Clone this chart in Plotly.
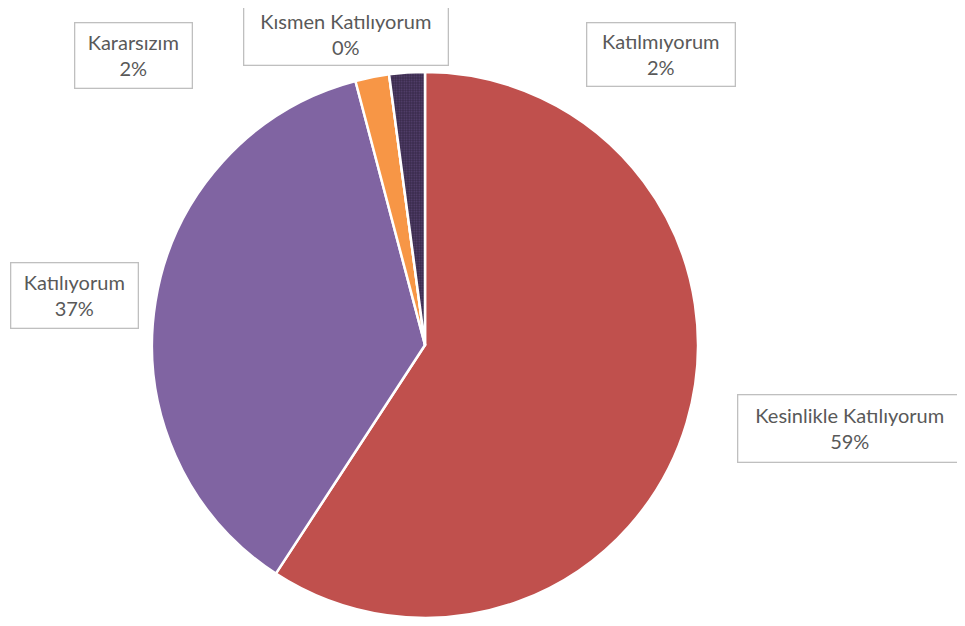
import plotly.graph_objects as go

labels = ["Kesinlikle Katılıyorum", "Katılıyorum", "Kararsızım", "Kısmen Katılıyorum", "Katılmıyorum"]
values = [59.2, 36.7, 2.0, 0.0, 2.1]
colors = ["#C0504D", "#8064A2", "#F79646", "#FFFFFF", "#3A2B4C"]
pattern_shapes = ["", "", "", "", "."]

total = sum(values)
pcts = [f"{round(v / total * 100):.0f}%" for v in values]

# the page body adds an 8px margin, so figure coords = screen coords - 8
OFF = 8
W, H = 957, 618
cx, cy, r = 425 - OFF, 345 - OFF, 273

fig = go.Figure(go.Pie(
    labels=labels, values=values, sort=False, direction="clockwise", rotation=0,
    marker=dict(colors=colors, line=dict(color="white", width=2.5),
                pattern=dict(shape=pattern_shapes, fgcolor="#7A5F9E", bgcolor="#3A2B4C",
                             size=2.5, solidity=0.3, fillmode="overlay")),
    textinfo="none", hoverinfo="label+percent", showlegend=False,
    domain=dict(x=[(cx - r) / W, (cx + r) / W], y=[(H - cy - r) / H, (H - cy + r) / H]),
))

# label box centres (screen pixels) and box sizes
boxes = {
    "Kesinlikle Katılıyorum": (850, 428, 225, 68),
    "Katılıyorum": (74, 295, 128, 66),
    "Kararsızım": (133, 56, 118, 66),
    "Kısmen Katılıyorum": (346, 34, 205, 62),
    "Katılmıyorum": (661, 54, 149, 64),
}
for lab, p in zip(labels, pcts):
    bx, by, bw, bh = boxes[lab]
    fig.add_annotation(
        x=(bx - OFF) / W, y=1 - (by - OFF) / H, xref="paper", yref="paper", showarrow=False,
        text=f"{lab}<br>{p}", align="center",
        font=dict(family="Lato", size=20, color="#595959"),
        bgcolor="white", bordercolor="#BFBFBF", borderwidth=1.3, borderpad=0,
        width=bw - 2, height=bh - 2, xanchor="center", yanchor="middle",
    )

fig.update_layout(
    width=W, height=H, margin=dict(l=0, r=0, t=0, b=0),
    paper_bgcolor="white", plot_bgcolor="white",
)
fig.write_html("out.html")
